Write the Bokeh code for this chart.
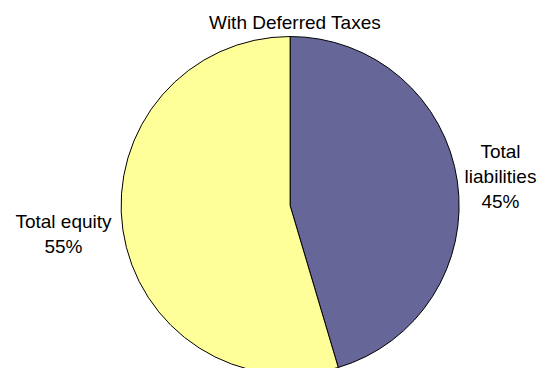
import math
from bokeh.plotting import figure
from bokeh.models import Range1d, ColumnDataSource
from bokeh.core.properties import value
from bokeh.embed import file_html
from bokeh.resources import INLINE

# Data
title_text = "With Deferred Taxes"
categories = ["Total\nliabilities", "Total equity"]
shares = [45.4, 54.6]
colors = ["#666699", "#FFFF99"]

W, H = 539, 368
p = figure(width=W, height=H, output_backend="svg", toolbar_location=None,
           x_range=Range1d(0, W), y_range=Range1d(0, H),
           min_border=0, min_border_left=0, min_border_right=0,
           min_border_top=0, min_border_bottom=0)
p.axis.visible = False
p.grid.visible = False
p.outline_line_color = None
p.background_fill_color = "white"
p.border_fill_color = "white"

total = sum(shares)
starts, ends = [], []
cum = 0.0
for v in shares:
    starts.append(math.pi / 2 - 2 * math.pi * cum / total)
    cum += v
    ends.append(math.pi / 2 - 2 * math.pi * cum / total)

cx, cy, r = 289.6, 163.0, 169.0
src = ColumnDataSource(dict(start=starts, end=ends, color=colors))
p.wedge(x=cx, y=cy, radius=r, start_angle="start", end_angle="end",
        direction="clock", fill_color="color", line_color="black",
        line_width=1, source=src)

labels = [f"{c}\n{round(v / total * 100)}%" for c, v in zip(categories, shares)]
lsrc = ColumnDataSource(dict(x=[500, 63], y=[192.3, 134.7], text=labels))
p.text(x="x", y="y", text="text", source=lsrc, text_align="center",
       text_baseline="middle", text_font=value("Liberation Sans"),
       text_font_size="19px", text_color="black", text_line_height=1.2)

p.text(x=[294.5], y=[346.5], text=[title_text], text_align="center",
       text_baseline="middle", text_font=value("Liberation Sans"),
       text_font_size="19px", text_color="black")

open("out.html", "w").write(file_html(p, INLINE))
